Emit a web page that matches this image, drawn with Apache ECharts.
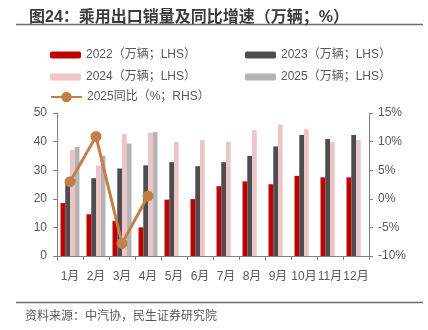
<!DOCTYPE html>
<html>
<head>
<meta charset="utf-8">
<script src="https://cdn.jsdelivr.net/npm/echarts@6/dist/echarts.min.js"></script>
<style>
html,body{margin:0;padding:0;background:#fff;}
#c{width:428px;height:330px;}
</style>
</head>
<body>
<div id="c"></div>
<script>
const months = ['1月','2月','3月','4月','5月','6月','7月','8月','9月','10月','11月','12月'];
const sales2022 = [18.5, 14.6, 12.2, 10.0, 19.7, 19.9, 24.4, 26.1, 25.1, 28.0, 27.5, 27.5];
const sales2023 = [25.5, 27.2, 30.6, 31.7, 32.8, 31.4, 32.8, 35.0, 38.3, 42.3, 40.9, 42.3];
const sales2024 = [37.1, 31.6, 42.7, 43.1, 39.9, 40.5, 40.0, 44.0, 46.0, 44.3, 39.8, 40.6];
const sales2025 = [38.1, 35.1, 39.3, 43.3, null, null, null, null, null, null, null, null];
const yoy2025 = [3.0, 10.9, -7.8, 0.5, null, null, null, null, null, null, null, null];
const leftTicks = [0, 50, 10];
const rightTicks = [-10, 15, 5];

const FONT = '"Liberation Sans","Noto Sans CJK SC",sans-serif';
const TXT = '#595959';
const AX = '#808080';
const names = ['2022（万辆；LHS）','2023（万辆；LHS）','2024（万辆；LHS）','2025（万辆；LHS）','2025同比（%；RHS）'];
const colors = ['#C00000','#4D4D4F','#EFC4C4','#B4B4B4','#C17F4A'];

function lg(name, left, top, isLine){
  return {
    data:[name], left:left, top:top, padding:0,
    itemWidth:31, itemHeight: isLine ? 13 : 7, itemGap:0,
    textStyle:{color:TXT, fontSize:12, fontFamily:FONT, padding:[0,0,0,0]},
    selectedMode:false
  };
}

const chart = echarts.init(document.getElementById('c'), null, {renderer:'canvas'});
const barCommon = {type:'bar', barGap:'0%', barCategoryGap:'27%', yAxisIndex:0};
chart.setOption({
  animation:false,
  textStyle:{fontFamily:FONT},
  title:{
    text:'图24：乘用出口销量及同比增速（万辆；%）',
    left:24, top:5,
    textStyle:{fontSize:16, fontWeight:'bold', color:'#3C3C3C', fontFamily:FONT}
  },
  graphic:[
    {type:'line', shape:{x1:16,y1:24.5,x2:423,y2:24.5}, style:{stroke:'#6E6E6E', lineWidth:1.5}},
    {type:'line', shape:{x1:16,y1:302.5,x2:423,y2:302.5}, style:{stroke:'#6E6E6E', lineWidth:1.5}},
    {type:'text', left:25, top:311, style:{text:'资料来源：中汽协，民生证券研究院', fill:TXT, fontSize:12, fontFamily:FONT}}
  ],
  legend:[
    lg(names[0], 50, 49, false),
    lg(names[1], 245, 49, false),
    lg(names[2], 50, 71, false),
    lg(names[3], 245, 71, false),
    lg(names[4], 50, 91, true)
  ],
  grid:{left:57, right:59, top:113, bottom:74, containLabel:false},
  xAxis:{
    type:'category', data:months, boundaryGap:true,
    axisLine:{lineStyle:{color:AX, width:1}},
    axisTick:{show:true, length:4, alignWithLabel:false, lineStyle:{color:AX}},
    axisLabel:{color:TXT, fontSize:12, margin:15, interval:0, fontFamily:FONT}
  },
  yAxis:[
    {type:'value', min:leftTicks[0], max:leftTicks[1], interval:leftTicks[2],
     axisLine:{show:true, lineStyle:{color:AX}},
     axisTick:{show:true, length:4, lineStyle:{color:AX}},
     splitLine:{show:false},
     axisLabel:{color:TXT, fontSize:12, margin:10, fontFamily:FONT}},
    {type:'value', min:rightTicks[0], max:rightTicks[1], interval:rightTicks[2], position:'right',
     axisLine:{show:true, lineStyle:{color:AX}},
     axisTick:{show:true, length:4, lineStyle:{color:AX}},
     splitLine:{show:false},
     axisLabel:{color:TXT, fontSize:12, margin:9, formatter:'{value}%', fontFamily:FONT}}
  ],
  series:[
    Object.assign({name:names[0], data:sales2022, itemStyle:{color:colors[0]}}, barCommon),
    Object.assign({name:names[1], data:sales2023, itemStyle:{color:colors[1]}}, barCommon),
    Object.assign({name:names[2], data:sales2024, itemStyle:{color:colors[2]}}, barCommon),
    Object.assign({name:names[3], data:sales2025, itemStyle:{color:colors[3]}}, barCommon),
    {name:names[4], type:'line', yAxisIndex:1, data:yoy2025, symbol:'circle', symbolSize:11,
     lineStyle:{color:colors[4], width:3}, itemStyle:{color:colors[4]}, z:5}
  ]
});
</script>
</body>
</html>
